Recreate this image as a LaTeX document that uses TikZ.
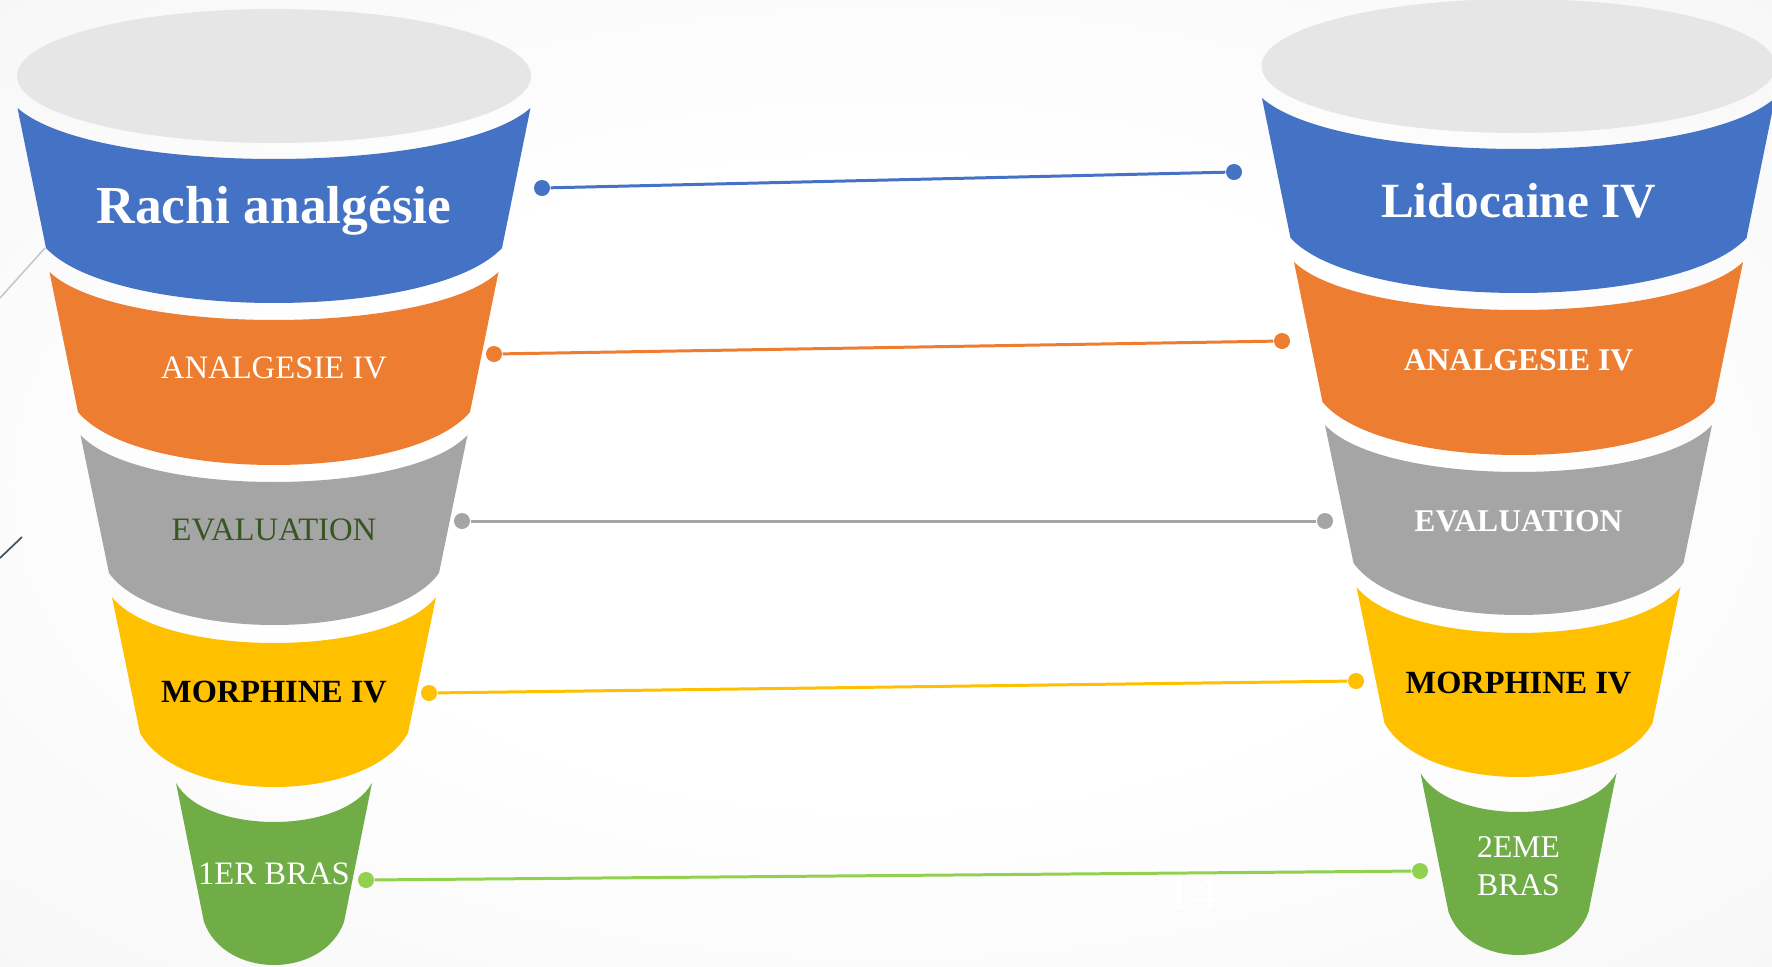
\documentclass[tikz,border=0pt]{standalone}
\usepackage{fontspec}
\setmainfont{Liberation Serif}
\usetikzlibrary{positioning}
\definecolor{FunBlue}{HTML}{4472C4}
\definecolor{FunOrange}{HTML}{ED7D31}
\definecolor{FunGray}{HTML}{A5A5A5}
\definecolor{FunYellow}{HTML}{FFC000}
\definecolor{FunGreen}{HTML}{70AD47}
\definecolor{LinkGreen}{HTML}{92D050}
\definecolor{TextGreen}{HTML}{375623}
\definecolor{LidGray}{HTML}{E6E6E6}
\definecolor{SlideGray}{HTML}{E9E9E9}
\definecolor{EdgeGray}{HTML}{C4C7CE}
\definecolor{EdgeSlate}{HTML}{44546A}
\pgfdeclareradialshading{slidebg}{\pgfpoint{0bp}{0bp}}{color(0bp)=(white); color(16bp)=(white); color(71bp)=(SlideGray)}
\tikzset{
    % Label styles
    titlelabel/.style={
        text=white,
        inner sep=0pt,
        anchor=base,
        font=\fontsize{15.2}{17}\selectfont\bfseries
    },
    seglabel/.style={
        text=white,
        inner sep=0pt,
        anchor=base,
        font=\fontsize{9.3}{10.8}\selectfont
    },
    % Connector styles
    dotnode/.style={
        circle,
        fill=#1,
        inner sep=0pt,
        minimum size=0.16cm
    },
    linkline/.style={
        draw=#1,
        line width=0.85pt
    }
}
% one band of a funnel: colour, top y, top half width, top sag, bottom y, bottom half width, bottom sag
\newcommand{\funnelband}[7]{%
    \fill[#1] (-#3,#2) .. controls ({-0.7*#3},{#2+1.333*#4}) and ({0.7*#3},{#2+1.333*#4}) .. (#3,#2)
        -- (#6,#5) .. controls ({0.7*#6},{#5+1.333*#7}) and ({-0.7*#6},{#5+1.333*#7}) .. (-#6,#5) -- cycle;
}
\newcommand{\funnelbody}{%
    \fill[LidGray] (0,76) ellipse [x radius=257, y radius=67];
    \funnelband{FunBlue}{108}{256.5}{51}{248}{228}{55}
    \funnelband{FunOrange}{272}{224.5}{48}{412}{196}{53}
    \funnelband{FunGray}{435}{193.5}{47}{573}{165}{52}
    \funnelband{FunYellow}{597}{162}{46}{733}{134}{54}
    \funnelband{FunGreen}{783}{98}{39}{922}{70}{43}
}
\begin{document}
\begin{tikzpicture}[x=0.01cm, y=-0.01cm]
                \useasboundingbox (0,0) rectangle (1772,966);
                \shade[shading=slidebg] (0,0) rectangle (1772,966);
                \clip (0,0) rectangle (1772,966);

                % slide edge lines
                \draw[EdgeGray, line width=0.45pt] (0,298) -- (45,248);
                \draw[EdgeSlate, line width=0.5pt] (0,558) -- (22,537);

                % Funnels
                \begin{scope}[shift={(274,0)}]
                    \funnelbody
                \end{scope}
                \begin{scope}[shift={(1518.5,-10)}]
                    \funnelbody
                \end{scope}

                % Left labels
                \node[titlelabel] (rachi) at (274,223) {Rachi analgésie};
                \node[seglabel] (analgL) at (274,378) {ANALGESIE IV};
                \node[seglabel, text=TextGreen] (evalL) at (274,540) {EVALUATION};
                \node[seglabel, text=black, font=\fontsize{9.2}{11}\selectfont\bfseries] (morphL) at (274,702) {MORPHINE IV};
                \node[seglabel] (brasL) at (274,884) {1ER BRAS};

                % Right labels
                \node[titlelabel, font=\fontsize{14}{17}\selectfont\bfseries] (lido) at (1518.5,217) {Lidocaine IV};
                \node[seglabel, font=\fontsize{9}{10.8}\selectfont\bfseries] (analgR) at (1518.5,370) {ANALGESIE IV};
                \node[seglabel, font=\fontsize{9}{10.8}\selectfont\bfseries] (evalR) at (1518.5,531) {EVALUATION};
                \node[seglabel, text=black, font=\fontsize{9.2}{11}\selectfont\bfseries] (morphR) at (1518.5,693) {MORPHINE IV};
                \node[seglabel, anchor=center, align=center, font=\fontsize{9}{10.8}\selectfont] (brasR) at (1518.5,866) {2EME\\BRAS};

                % Connector dots
                \node[dotnode=FunBlue] (blueL) at (542,188) {};
                \node[dotnode=FunBlue] (blueR) at (1234,172) {};
                \node[dotnode=FunOrange] (orangeL) at (494,354) {};
                \node[dotnode=FunOrange] (orangeR) at (1282,341) {};
                \node[dotnode=FunGray] (grayL) at (462,521) {};
                \node[dotnode=FunGray] (grayR) at (1325,521) {};
                \node[dotnode=FunYellow] (yellowL) at (429,693) {};
                \node[dotnode=FunYellow] (yellowR) at (1356,681) {};
                \node[dotnode=LinkGreen] (greenL) at (366,880) {};
                \node[dotnode=LinkGreen] (greenR) at (1420,871) {};

                \draw[linkline=FunBlue] (blueL) -- (blueR);
                \draw[linkline=FunOrange] (orangeL) -- (orangeR);
                \draw[linkline=FunGray] (grayL) -- (grayR);
                \draw[linkline=FunYellow] (yellowL) -- (yellowR);
                \draw[linkline=LinkGreen] (greenL) -- (greenR);

                % Slide number
                \node[seglabel, font=\fontsize{14.8}{17}\selectfont] (slidenum) at (1192,909) {14};
            \end{tikzpicture}
\end{document}
